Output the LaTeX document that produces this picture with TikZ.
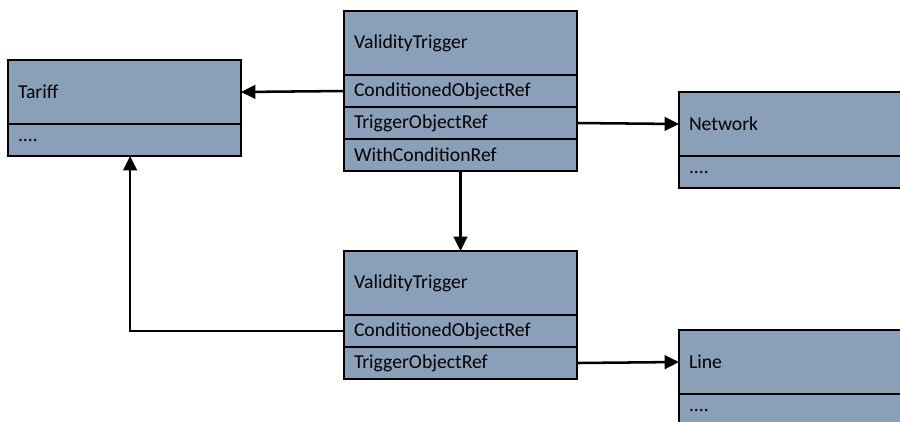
\documentclass[tikz,border=0pt]{standalone}
\usepackage{fontspec}
\setmainfont{Carlito}
\usetikzlibrary{arrows.meta, positioning}
\definecolor{boxfill}{HTML}{8AA0B9}

\begin{document}
\begin{tikzpicture}[
    every node/.style={font=\fontsize{14}{16}\selectfont},
    hdr/.style={draw, line width=1.7pt, fill=boxfill, outer sep=0pt, inner xsep=0.25cm,
                text width=5.325cm, minimum height=1.6cm, align=left, anchor=north west},
    row/.style={draw, line width=1.7pt, fill=boxfill, outer sep=0pt, inner xsep=0.25cm,
                text width=5.325cm, minimum height=0.8cm, align=left, below=0pt of #1},
    arr/.style={-{Triangle[length=0.36cm, width=0.34cm]}, line width=1.8pt}
]
    \useasboundingbox (0, 0) rectangle (22.5, -10.525);
    \clip (0, 0) rectangle (22.5, -10.525);

    % Tariff
    \node[hdr] (tf) at (0.2, -1.5) {Tariff};
    \node[row=tf] (tfd) {....};

    % Top validity trigger
    \node[hdr] (vt) at (8.6, -0.275) {ValidityTrigger};
    \node[row=vt] (vtc) {ConditionedObjectRef};
    \node[row=vtc] (vtt) {TriggerObjectRef};
    \node[row=vtt] (vtw) {WithConditionRef};

    % Network
    \node[hdr] (nw) at (16.975, -2.3) {Network};
    \node[row=nw] (nwd) {....};

    % Bottom validity trigger
    \node[hdr] (vb) at (8.6, -6.275) {ValidityTrigger};
    \node[row=vb] (vbc) {ConditionedObjectRef};
    \node[row=vbc] (vbt) {TriggerObjectRef};

    % Line
    \node[hdr] (ln) at (16.975, -8.25) {Line};
    \node[row=ln] (lnd) {....};

    \draw[arr] (vtc.west) -- (tf.east);
    \draw[arr] (vtt.east) -- (nw.west);
    \draw[arr] (vtw.south) -- (vb.north);
    \draw[arr] (vbc.west) -| ([xshift=0.14cm]tfd.south);
    \draw[arr] (vbt.east) -- (ln.west);
\end{tikzpicture}
\end{document}
